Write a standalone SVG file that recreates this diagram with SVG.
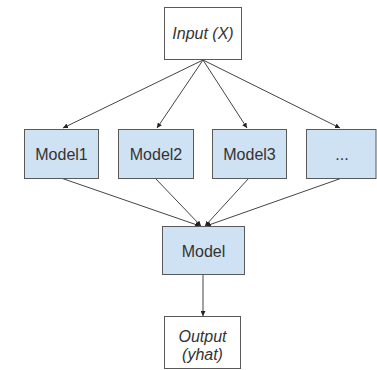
<svg xmlns="http://www.w3.org/2000/svg" width="377" height="370" viewBox="0 0 377 370">
<defs>
<marker id="ah" viewBox="0 0 10 10" refX="10" refY="5" markerWidth="5" markerHeight="5" orient="auto" markerUnits="userSpaceOnUse">
<path d="M0,0 L10,5 L0,10 z" fill="#222"/>
</marker>
<style>
.box{stroke:#595959;stroke-width:1}
.blue{fill:#cfe2f3}
.white{fill:#ffffff}
.t{font-family:"Liberation Sans",Arial,sans-serif;font-size:16px;fill:#333;text-anchor:middle}
.i{font-style:italic}
.c{stroke:#444;stroke-width:1;fill:none;marker-end:url(#ah)}
</style>
</defs>
<rect width="377" height="370" fill="#ffffff"/>
<g id="connectors">
<line class="c" x1="203" y1="60" x2="63" y2="128"/>
<line class="c" x1="203" y1="60" x2="157" y2="128"/>
<line class="c" x1="203" y1="60" x2="247" y2="128"/>
<line class="c" x1="203" y1="60" x2="340" y2="128"/>
<line class="c" x1="61" y1="178" x2="200" y2="226"/>
<line class="c" x1="155" y1="178" x2="201" y2="226"/>
<line class="c" x1="249" y1="178" x2="205" y2="226"/>
<line class="c" x1="342" y1="178" x2="206" y2="226"/>
<line class="c" x1="203" y1="274" x2="203" y2="316"/>
</g>
<g id="input">
<rect class="box white" x="164.5" y="7.5" width="77" height="52"/>
<text class="t i" x="203" y="39">Input (X)</text>
</g>
<g id="model1">
<rect class="box blue" x="24.5" y="129.5" width="74" height="49"/>
<text class="t" x="61.5" y="160">Model1</text>
</g>
<g id="model2">
<rect class="box blue" x="118.5" y="129.5" width="75" height="49"/>
<text class="t" x="156" y="160">Model2</text>
</g>
<g id="model3">
<rect class="box blue" x="212.5" y="129.5" width="74" height="49"/>
<text class="t" x="249.5" y="160">Model3</text>
</g>
<g id="more">
<rect class="box blue" x="306.5" y="129.5" width="69.5" height="49"/>
<text class="t" x="342" y="160">...</text>
</g>
<g id="model">
<rect class="box blue" x="162.5" y="226.5" width="82" height="48"/>
<text class="t" x="203.5" y="257">Model</text>
</g>
<g id="output">
<rect class="box white" x="164.5" y="316.5" width="76" height="52"/>
<text class="t i" x="202.5" y="342">Output</text>
<text class="t i" x="202.5" y="360">(yhat)</text>
</g>
</svg>
